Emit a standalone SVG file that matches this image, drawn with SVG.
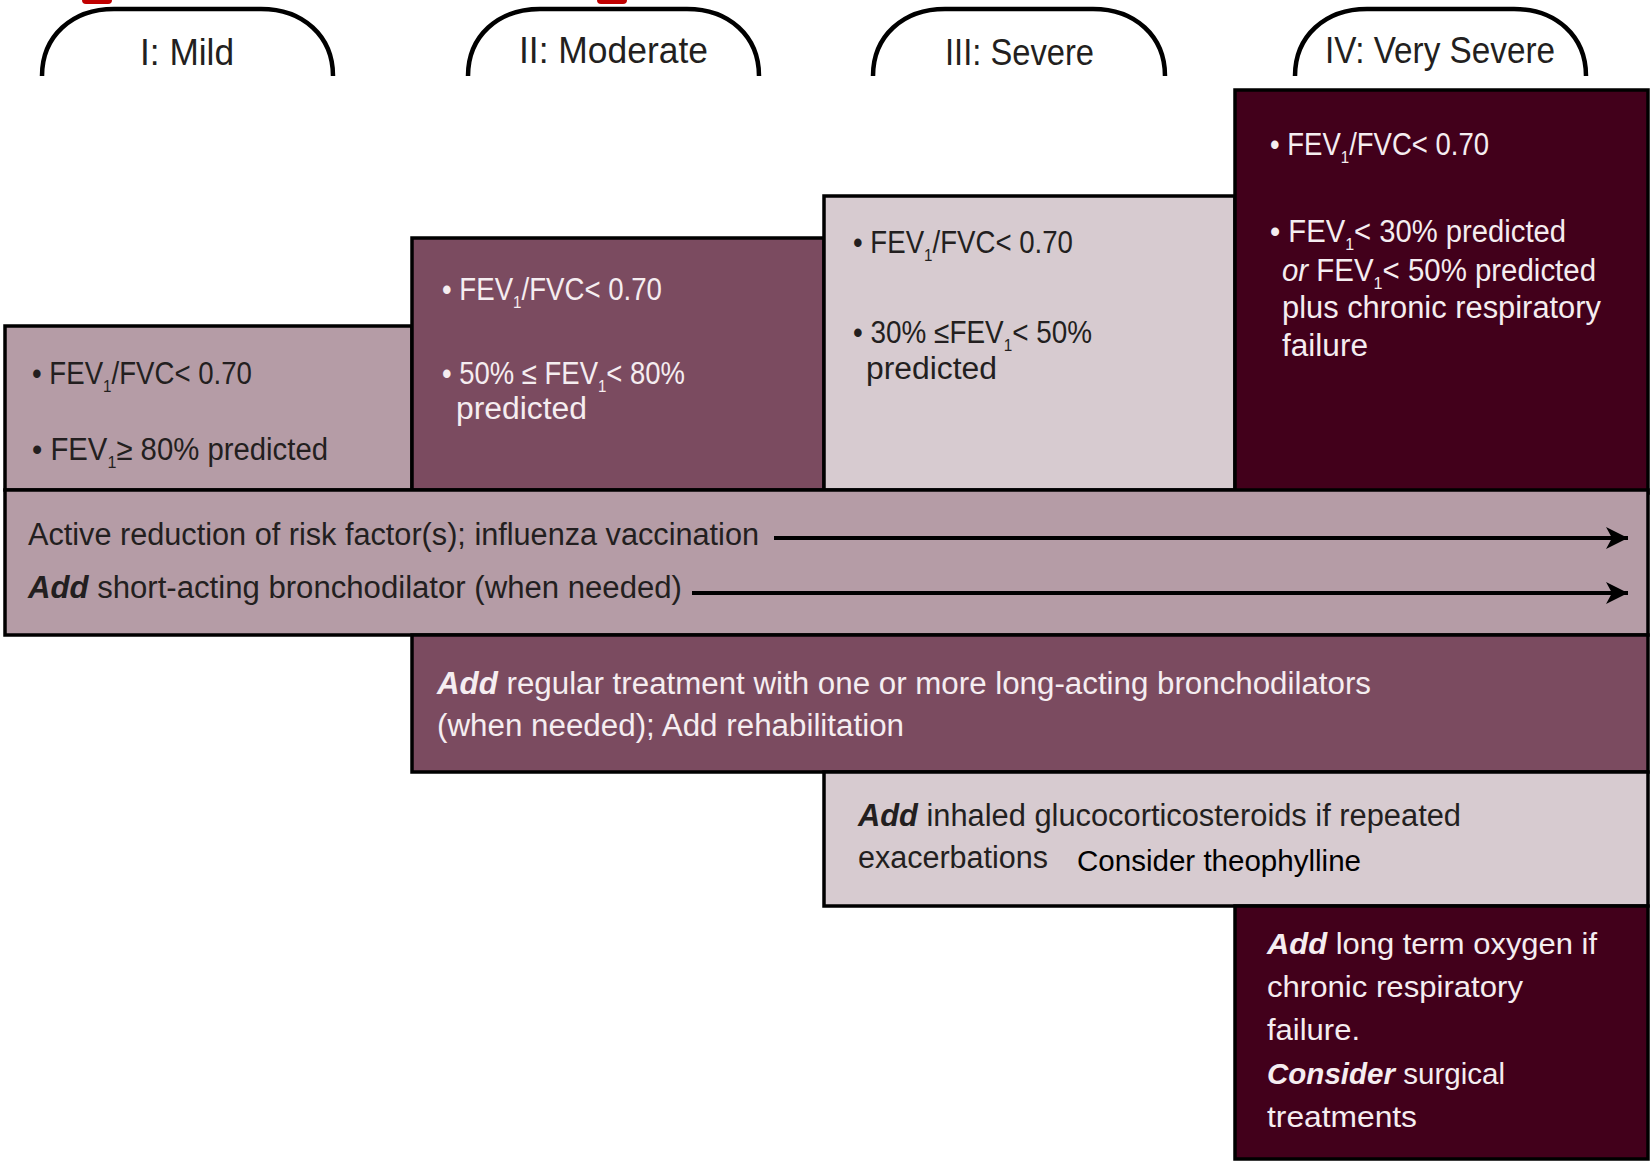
<svg xmlns="http://www.w3.org/2000/svg" width="1652" height="1161" viewBox="0 0 1652 1161">
<style>
text { font-family: "Liberation Sans", Arial, sans-serif; }
.tab { fill: none; stroke: #000; stroke-width: 4.5; }
.tabt { font-size: 36px; fill: #231f20; }
.box { stroke: #000; stroke-width: 3.5; }
.c1 { fill: #b59ca6; }
.c2 { fill: #7b4b60; }
.c3 { fill: #d7cbd0; }
.c4 { fill: #42001b; }
.bt { font-size: 31px; }
.dk { fill: #231f20; }
.lt { fill: #f5edf0; }
.bi { font-weight: bold; font-style: italic; }
.it { font-style: italic; }
.sub { font-size: 17px; }
.cal { font-size: 29px; fill: #000; }
.vs { font-size: 30px; }
.arrow { stroke: #000; stroke-width: 4; fill: none; }
</style>
<defs>
<marker id="ah" markerUnits="userSpaceOnUse" markerWidth="24" markerHeight="22" refX="22" refY="11" orient="auto">
<path d="M0,0 L22,11 L0,22 L6,11 z" fill="#000"/>
</marker>
</defs>
<rect width="1652" height="1161" fill="#fff"/>
<rect x="82" y="-10" width="30" height="14" rx="4" fill="#c00000"/>
<rect x="597" y="-10" width="30" height="14" rx="4" fill="#c00000"/>

<g id="tab-mild">
<path class="tab" d="M42,76 C42,36 72,9 114,9 L261,9 C303,9 333,36 333,76"/>
<text class="tabt" x="140" y="65" textLength="94" lengthAdjust="spacingAndGlyphs">I: Mild</text>
</g>
<g id="tab-moderate">
<path class="tab" d="M468,76 C468,36 498,9 540,9 L687,9 C729,9 759,36 759,76"/>
<text class="tabt" x="519" y="63" textLength="189" lengthAdjust="spacingAndGlyphs">II: Moderate</text>
</g>
<g id="tab-severe">
<path class="tab" d="M873,76 C873,36 903,9 945,9 L1093,9 C1135,9 1165,36 1165,76"/>
<text class="tabt" x="945" y="65" textLength="149" lengthAdjust="spacingAndGlyphs">III: Severe</text>
</g>
<g id="tab-very-severe">
<path class="tab" d="M1295,76 C1295,36 1325,9 1367,9 L1514,9 C1556,9 1586,36 1586,76"/>
<text class="tabt" x="1325" y="63" textLength="230" lengthAdjust="spacingAndGlyphs">IV: Very Severe</text>
</g>

<g id="box-mild">
<rect class="box c1" x="5" y="326" width="407" height="164"/>
<text class="bt dk" x="32" y="384" textLength="220" lengthAdjust="spacingAndGlyphs">• FEV<tspan class="sub" dy="8">1</tspan><tspan dy="-8">/FVC&lt; 0.70</tspan></text>
<text class="bt dk" x="32" y="460" textLength="296" lengthAdjust="spacingAndGlyphs">• FEV<tspan class="sub" dy="8">1</tspan><tspan dy="-8">≥ 80% predicted</tspan></text>
</g>
<g id="box-moderate">
<rect class="box c2" x="412" y="238" width="412" height="252"/>
<text class="bt lt" x="442" y="300" textLength="220" lengthAdjust="spacingAndGlyphs">• FEV<tspan class="sub" dy="8">1</tspan><tspan dy="-8">/FVC&lt; 0.70</tspan></text>
<text class="bt lt" x="442" y="384" textLength="243" lengthAdjust="spacingAndGlyphs">• 50% ≤ FEV<tspan class="sub" dy="8">1</tspan><tspan dy="-8">&lt; 80%</tspan></text>
<text class="bt lt" x="456" y="419" textLength="131" lengthAdjust="spacingAndGlyphs">predicted</text>
</g>
<g id="box-severe">
<rect class="box c3" x="824" y="196" width="411" height="294"/>
<text class="bt dk" x="853" y="253" textLength="220" lengthAdjust="spacingAndGlyphs">• FEV<tspan class="sub" dy="8">1</tspan><tspan dy="-8">/FVC&lt; 0.70</tspan></text>
<text class="bt dk" x="853" y="343" textLength="239" lengthAdjust="spacingAndGlyphs">• 30% ≤FEV<tspan class="sub" dy="8">1</tspan><tspan dy="-8">&lt; 50%</tspan></text>
<text class="bt dk" x="866" y="379" textLength="131" lengthAdjust="spacingAndGlyphs">predicted</text>
</g>
<g id="box-very-severe">
<rect class="box c4" x="1235" y="90" width="413" height="403"/>
<text class="bt lt" x="1270" y="155" textLength="219" lengthAdjust="spacingAndGlyphs">• FEV<tspan class="sub" dy="8">1</tspan><tspan dy="-8">/FVC&lt; 0.70</tspan></text>
<text class="bt lt" x="1270" y="242" textLength="296" lengthAdjust="spacingAndGlyphs">• FEV<tspan class="sub" dy="8">1</tspan><tspan dy="-8">&lt; 30% predicted</tspan></text>
<text class="bt lt" x="1282" y="281" textLength="314" lengthAdjust="spacingAndGlyphs"><tspan class="it">or</tspan> FEV<tspan class="sub" dy="8">1</tspan><tspan dy="-8">&lt; 50% predicted</tspan></text>
<text class="bt lt" x="1282" y="318" textLength="319" lengthAdjust="spacingAndGlyphs">plus chronic respiratory</text>
<text class="bt lt" x="1282" y="356" textLength="86" lengthAdjust="spacingAndGlyphs">failure</text>
</g>

<g id="row-common">
<rect class="box c1" x="5" y="490" width="1643" height="145"/>
<text class="bt dk" x="28" y="545" textLength="731" lengthAdjust="spacingAndGlyphs">Active reduction of risk factor(s); influenza vaccination</text>
<text class="bt dk" x="28" y="598" textLength="654" lengthAdjust="spacingAndGlyphs"><tspan class="bi">Add</tspan> short-acting bronchodilator (when needed)</text>
</g>
<g id="row-moderate">
<rect class="box c2" x="412" y="635" width="1236" height="137"/>
<text class="bt lt" x="437" y="694" textLength="934" lengthAdjust="spacingAndGlyphs"><tspan class="bi">Add</tspan> regular treatment with one or more long-acting bronchodilators</text>
<text class="bt lt" x="437" y="736" textLength="467" lengthAdjust="spacingAndGlyphs">(when needed); Add rehabilitation</text>
</g>
<g id="row-severe">
<rect class="box c3" x="824" y="772" width="824" height="134"/>
<text class="bt dk" x="858" y="826" textLength="603" lengthAdjust="spacingAndGlyphs"><tspan class="bi">Add</tspan> inhaled glucocorticosteroids if repeated</text>
<text class="bt dk" x="858" y="868" textLength="190" lengthAdjust="spacingAndGlyphs">exacerbations</text>
<text class="cal" x="1077" y="871" textLength="284" lengthAdjust="spacingAndGlyphs">Consider theophylline</text>
</g>
<g id="row-very-severe">
<rect class="box c4" x="1235" y="906" width="413" height="253"/>
<text class="vs lt" x="1267" y="954" textLength="330" lengthAdjust="spacingAndGlyphs"><tspan class="bi">Add</tspan> long term oxygen if</text>
<text class="vs lt" x="1267" y="997" textLength="256" lengthAdjust="spacingAndGlyphs">chronic respiratory</text>
<text class="vs lt" x="1267" y="1040" textLength="93" lengthAdjust="spacingAndGlyphs">failure.</text>
<text class="vs lt" x="1267" y="1084" textLength="238" lengthAdjust="spacingAndGlyphs"><tspan class="bi">Consider</tspan> surgical</text>
<text class="vs lt" x="1267" y="1127" textLength="150" lengthAdjust="spacingAndGlyphs">treatments</text>
</g>

<g id="connectors">
<line class="arrow" x1="774" y1="538" x2="1628" y2="538" marker-end="url(#ah)"/>
<line class="arrow" x1="692" y1="593" x2="1628" y2="593" marker-end="url(#ah)"/>
</g>
</svg>
